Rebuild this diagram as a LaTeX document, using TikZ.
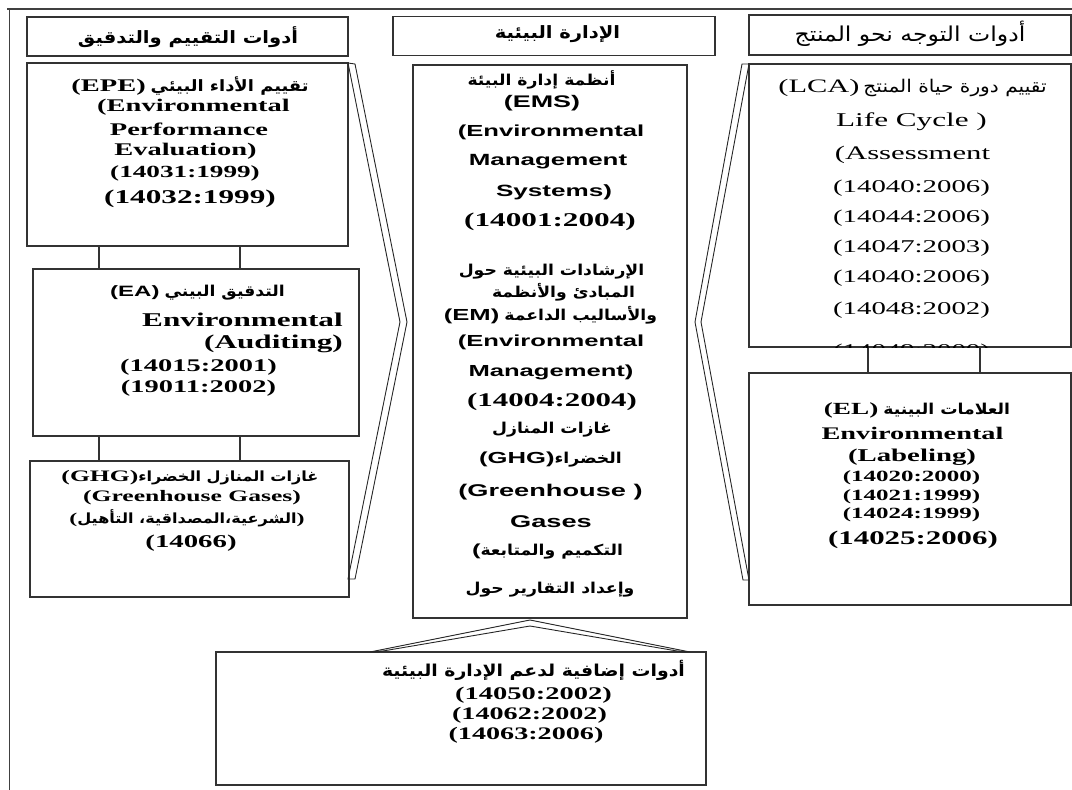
\documentclass[tikz,border=0pt]{standalone}
\usepackage{fontspec}
\TeXXeTstate=1
\setmainfont{Liberation Serif}
\newfontfamily\serb[FakeStretch=1.6]{Liberation Serif Bold}
\newfontfamily\serr[FakeStretch=1.6]{Liberation Serif}
\newfontfamily\sanb[FakeStretch=1.6]{Liberation Sans Bold}
\newfontfamily\arb[Script=Arabic,FakeStretch=1.15]{DejaVu Sans Bold}
\newfontfamily\arr[Script=Arabic,FakeStretch=1.15]{DejaVu Sans}
\newcommand\fsz[1]{\fontsize{#1}{#1}\selectfont}
\newcommand\AR[1]{\beginR #1\endR}
\tikzset{
  box/.style={draw=black!80, line width=1.2pt, inner sep=0pt, outer sep=0pt},
  txt/.style={inner sep=0pt, outer sep=0pt, anchor=center, text=black},
  chev/.style={draw=black!85, line width=0.9pt, line join=miter},
  link/.style={draw=black!80, line width=1.2pt},
  frame/.style={draw=black!75, line width=1.2pt}
}
\begin{document}
\begin{tikzpicture}[x=1pt,y=-1pt]
\useasboundingbox (0,0) rectangle (1072,790);
% outer frame lines
\draw[frame] (7,9) -- (1072,9);
\draw[frame] (9.5,9) -- (9.5,790);
% header boxes
\node[box, minimum width=321pt, minimum height=39pt] (hl) at (187.5,36.5) {};
\node[box, minimum width=322pt, minimum height=39pt] (hm) at (554,36) {};
\node[box, minimum width=322pt, minimum height=40pt] (hr) at (910,35) {};
% content boxes
\node[box, minimum width=321pt, minimum height=183pt] (epe) at (187.5,154.5) {};
\node[box, minimum width=326pt, minimum height=167pt] (ea) at (196,352.5) {};
\node[box, minimum width=319pt, minimum height=136pt] (ghg) at (189.5,529) {};
\node[box, minimum width=274pt, minimum height=553pt] (mid) at (550,341.5) {};
\node[box, minimum width=322pt, minimum height=283pt] (lca) at (910,205.5) {};
\node[box, minimum width=322pt, minimum height=232pt] (el) at (910,489) {};
\node[box, minimum width=490pt, minimum height=133pt] (bot) at (461,718.5) {};
% connector columns
\coordinate (cA) at (99,0);
\coordinate (cB) at (240,0);
\coordinate (cC) at (868,0);
\coordinate (cD) at (980,0);
\draw[link] (cA |- epe.south) -- (cA |- ea.north);
\draw[link] (cB |- epe.south) -- (cB |- ea.north);
\draw[link] (cA |- ea.south) -- (cA |- ghg.north);
\draw[link] (cB |- ea.south) -- (cB |- ghg.north);
\draw[link] (cC |- lca.south) -- (cC |- el.north);
\draw[link] (cD |- lca.south) -- (cD |- el.north);
% chevrons
\draw[chev] (epe.north east) -- (355,64) -- (407,322) -- (355,579) -- (348,579) -- (400,322) -- cycle;
\draw[chev] (742,64) -- (lca.north west) -- (701,322) -- (749,580) -- (743,580) -- (695,322) -- cycle;
\draw[chev] (370,652) -- (530,620) -- (690,652) -- (683,652) -- (530,626) -- (377,652) -- cycle;
% headers
\node[txt] (h1) at (188,37) {\arb\fsz{17}\AR{أدوات التقييم والتدقيق}};
\node[txt] (h2) at (557.5,34) {\arb\fsz{17}\AR{الإدارة البيئية}};
\node[txt] (h3) at (910,34) {\arr\fsz{20.5}\AR{أدوات التوجه نحو المنتج}};
% EPE box
\node[txt] (e1) at (190,86) {{\serb\fsz{17.8}(EPE)}\hspace{5pt}{\arb\fsz{15.6}\AR{تقييم الأداء البيئي}}};
\node[txt] (e2) at (193.5,107) {\serb\fsz{17.8}(Environmental};
\node[txt] (e3) at (189,129) {\serb\fsz{17.8}Performance};
\node[txt] (e4) at (185.5,151) {\serb\fsz{17.8}Evaluation)};
\node[txt] (e5) at (185,173) {\serb\fsz{17}(14031:1999)};
\node[txt] (e6) at (190,199) {\serb\fsz{19.5}(14032:1999)};
% EA box
\node[txt] (a1) at (197.5,293) {{\sanb\fsz{15}(EA)}\hspace{5pt}{\arb\fsz{15}\AR{التدقيق البيني}}};
\node[txt] (a2) at (242.5,320) {\serb\fsz{19.5}Environmental};
\node[txt] (a3) at (273.5,344) {\serb\fsz{19.5}(Auditing)};
\node[txt] (a4) at (198.5,367) {\serb\fsz{17.8}(14015:2001)};
\node[txt] (a5) at (198.5,388) {\serb\fsz{17.8}(19011:2002)};
% GHG box
\node[txt] (g1) at (190,478) {{\serb\fsz{16}(GHG)}{\arb\fsz{14}\AR{غازات المنازل الخضراء}}};
\node[txt] (g2) at (192,498) {\serb\fsz{16}(Greenhouse Gases)};
\node[txt] (g3) at (187,518) {{\serb\fsz{15}(}{\arb\fsz{14}\AR{الشرعية،المصداقية، التأهيل}}{\serb\fsz{15})}};
\node[txt] (g4) at (191,543) {\serb\fsz{18}(14066)};
% middle box
\node[txt] (m1) at (541.5,80) {\arb\fsz{15}\AR{أنظمة إدارة البيئة}};
\node[txt] (m2) at (542,103) {\sanb\fsz{16.8}(EMS)};
\node[txt] (m3) at (551,132) {\sanb\fsz{16}(Environmental};
\node[txt] (m4) at (548,162) {\sanb\fsz{16.2}Management};
\node[txt] (m5) at (554,192) {\sanb\fsz{16.3}Systems)};
\node[txt] (m6) at (550,222) {\serb\fsz{19.5}(14001:2004)};
\node[txt] (m7) at (551.5,272) {\arb\fsz{15}\AR{الإرشادات البيئية حول}};
\node[txt] (m8) at (563.5,292) {\arb\fsz{15}\AR{المبادئ والأنظمة}};
\node[txt] (m9) at (550.5,315) {{\sanb\fsz{16}(EM)}\hspace{5pt}{\arb\fsz{15}\AR{والأساليب الداعمة}}};
\node[txt] (m10) at (551,342) {\sanb\fsz{16}(Environmental};
\node[txt] (m11) at (551,372) {\sanb\fsz{16}Management)};
\node[txt] (m12) at (552,402) {\serb\fsz{19.3}(14004:2004)};
\node[txt] (m13) at (552,430) {\arb\fsz{15}\AR{غازات المنازل}};
\node[txt] (m14) at (550.5,460) {{\sanb\fsz{16}(GHG)}{\arb\fsz{15}\AR{الخضراء}}};
\node[txt] (m15) at (550.5,492) {\sanb\fsz{17}(Greenhouse )};
\node[txt] (m16) at (551,522) {\sanb\fsz{17}Gases};
\node[txt] (m17) at (547.5,552) {{\sanb\fsz{16}(}{\arb\fsz{15}\AR{التكميم والمتابعة}}};
\node[txt] (m18) at (550,590) {\arb\fsz{15}\AR{وإعداد التقارير حول}};
% LCA box (clipped)
\begin{scope}
\clip (lca.north west) rectangle (lca.south east);
\node[txt] (l1) at (912.5,88) {{\serr\fsz{19}(LCA)}\hspace{4pt}{\arr\fsz{17.5}\AR{تقييم دورة حياة المنتج}}};
\node[txt] (l2) at (911.5,122) {\serr\fsz{19.5}Life Cycle )};
\node[txt] (l3) at (912.5,155) {\serr\fsz{19.2}(Assessment};
\node[txt] (l4) at (911.5,188) {\serr\fsz{18}(14040:2006)};
\node[txt] (l5) at (911.5,218) {\serr\fsz{18}(14044:2006)};
\node[txt] (l6) at (911.5,248) {\serr\fsz{18}(14047:2003)};
\node[txt] (l7) at (911.5,278) {\serr\fsz{18}(14040:2006)};
\node[txt] (l8) at (911.5,310) {\serr\fsz{18}(14048:2002)};
\node[txt] (l9) at (911.5,352) {\serr\fsz{18}(14049:2000)};
\end{scope}
% EL box
\node[txt] (el1) at (917,410) {{\serb\fsz{17}(EL)}\hspace{5pt}{\arb\fsz{15}\AR{العلامات البينية}}};
\node[txt] (el2) at (912.5,433) {\serb\fsz{17.7}Environmental};
\node[txt] (el3) at (912,457) {\serb\fsz{18}(Labeling)};
\node[txt] (el4) at (911.5,478) {\serb\fsz{15.6}(14020:2000)};
\node[txt] (el5) at (911.5,497) {\serb\fsz{15.6}(14021:1999)};
\node[txt] (el6) at (911.5,515) {\serb\fsz{15.6}(14024:1999)};
\node[txt] (el7) at (913,540) {\serb\fsz{19.3}(14025:2006)};
% bottom box
\node[txt] (b1) at (533.5,670) {\arb\fsz{16.4}\AR{أدوات إضافية لدعم الإدارة البيئية}};
\node[txt] (b2) at (533.5,695) {\serb\fsz{17.8}(14050:2002)};
\node[txt] (b3) at (529.5,715) {\serb\fsz{17.6}(14062:2002)};
\node[txt] (b4) at (526,735) {\serb\fsz{17.6}(14063:2006)};
\end{tikzpicture}
\end{document}
